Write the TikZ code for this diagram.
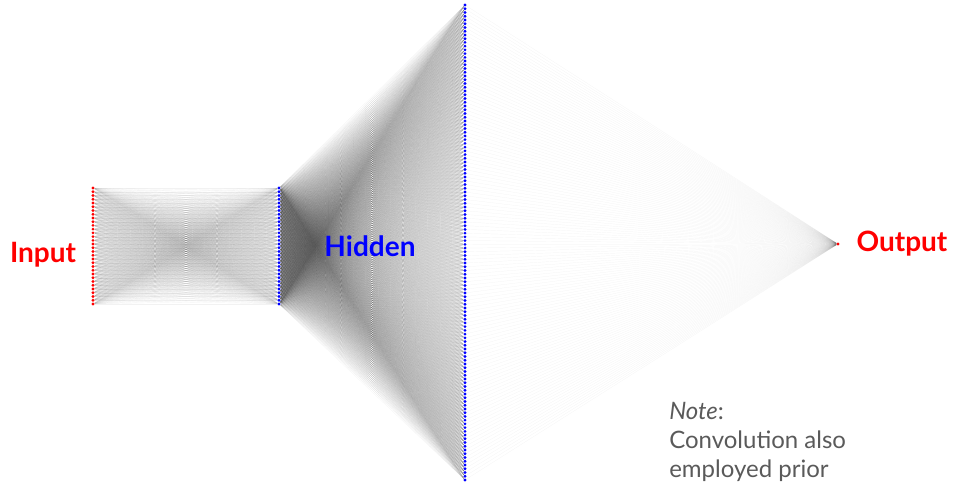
\documentclass[tikz,border=0pt]{standalone}
\usepackage{fontspec}
\setmainfont{Lato}
\usetikzlibrary{backgrounds}
\definecolor{notegray}{RGB}{90,90,90}
\tikzset{
	unit/.style={circle,fill=#1,inner sep=0pt,minimum size=2.4pt},
	wire/.style={draw=black,line width=0.15pt,opacity=0.05},
	layername/.style={font=\fontsize{21}{25}\selectfont\bfseries,text=#1,anchor=base}
}
\begin{document}
\begin{tikzpicture}[x=0.75pt,y=-0.75pt, line join=round, line cap=round]
	\useasboundingbox (0,0) rectangle (961,484);
	\def\xin{93} \def\xhida{279} \def\xhidb{465} \def\xout{838}
	\def\ysmall{188} \def\ybig{5} \def\dy{3.74}
	% units
	\foreach \i in {0,...,31} {
		\node[unit=red] (in\i) at (\xin,\ysmall+\i*\dy) {};
		\node[unit=blue] (hida\i) at (\xhida,\ysmall+\i*\dy) {};
	}
	\foreach \k in {0,...,127}
		\node[unit=blue] (hidb\k) at (\xhidb,\ybig+\k*\dy) {};
	\node[unit=red] (out) at (\xout,244) {};
	% connections
	\begin{scope}[on background layer]
		\foreach \i in {0,...,31}
			\foreach \j in {0,...,31}
				\draw[wire] (in\i) -- (hida\j);
		\foreach \j in {0,...,31}
			\foreach \k in {0,...,127}
				\draw[wire] (hida\j) -- (hidb\k);
		\foreach \k in {0,...,127}
			\draw[wire] (hidb\k) -- (out);
	\end{scope}
	% labels
	\node[layername=red] (inlabel) at (43,263) {Input};
	\node[layername=blue] (hidlabel) at (370,257) {Hidden};
	\node[layername=red] (outlabel) at (902,252) {Output};
	\node[anchor=north west,align=left,inner sep=0pt,text=notegray,
		font=\fontsize{18}{21.8}\selectfont] (note) at (669,402)
		{\textit{Note}:\\Convolution also\\employed prior};
\end{tikzpicture}
\end{document}
